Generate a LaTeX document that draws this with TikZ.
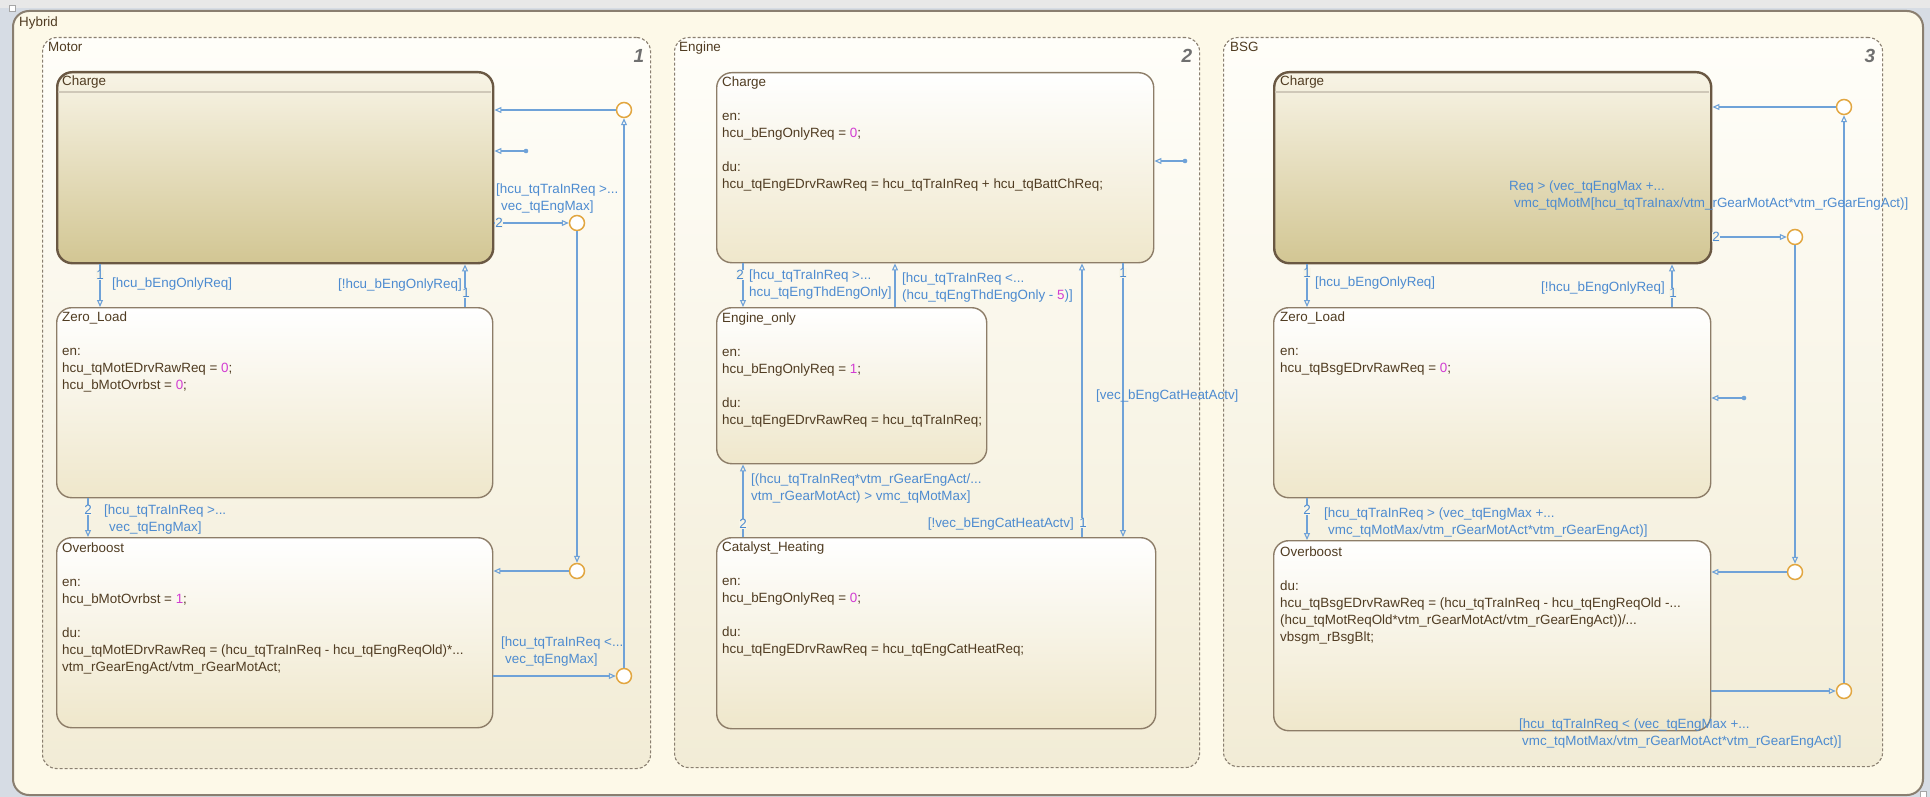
\documentclass[tikz,border=0pt]{standalone}
\usepackage{fontspec}
\setmainfont{Liberation Sans}
\usetikzlibrary{arrows.meta,calc}
\definecolor{framecol}{HTML}{D6DCE4}
\definecolor{topstrip}{HTML}{E8E8E8}
\definecolor{hyfill}{HTML}{FDF9E8}
\definecolor{hydraw}{HTML}{8A7F70}
\definecolor{ctop}{HTML}{FFFEF9}
\definecolor{cbot}{HTML}{F2ECD6}
\definecolor{stopc}{HTML}{FFFFFF}
\definecolor{sbot}{HTML}{EFE7CB}
\definecolor{atop}{HTML}{F8F4E6}
\definecolor{abot}{HTML}{D2C693}
\definecolor{sdraw}{HTML}{8D7D68}
\definecolor{adraw}{HTML}{6A5843}
\definecolor{stcol}{HTML}{503C22}
\definecolor{numcol}{HTML}{D23CD2}
\definecolor{trcol}{HTML}{6FA2D8}
\definecolor{labcol}{HTML}{4D8BD0}
\definecolor{jcol}{HTML}{E2A640}
\definecolor{chnum}{HTML}{707070}
\definecolor{hdrcol}{HTML}{CFC8B8}
\newcommand\sfnt{\fontsize{13.4}{17}\selectfont}
\newcommand\nm[1]{\textcolor{numcol}{#1}}
\begin{document}
\begin{tikzpicture}[x=1pt,y=-1pt,
  cont/.style={draw=hydraw, line width=1.1pt, dash pattern=on 3pt off 2pt, rounded corners=14pt, top color=ctop, bottom color=cbot, inner sep=0pt, anchor=north west},
  state/.style={draw=sdraw, line width=1.4pt, rounded corners=15pt, top color=stopc, bottom color=sbot, inner sep=0pt, anchor=north west},
  astate/.style={draw=adraw, line width=2.4pt, rounded corners=15pt, top color=atop, bottom color=abot, inner sep=0pt, anchor=north west},
  txt/.style={font=\sfnt, text=stcol, align=left, inner sep=0pt, anchor=north west},
  ln/.style={font=\sfnt, text=stcol, inner sep=0pt, anchor=base west},
  lab/.style={font=\sfnt, text=labcol, align=left, inner sep=0pt, anchor=north west},
  labw/.style={font=\sfnt, text=labcol, inner sep=0pt, anchor=base west},
  labe/.style={font=\sfnt, text=labcol, inner sep=0pt, anchor=base east},
  tnum/.style={font=\sfnt, text=labcol, inner sep=0.6pt, fill=ctop!50!cbot},
  cnum/.style={font=\fontsize{19}{20}\selectfont\bfseries\itshape, text=chnum, inner sep=0pt},
  junc/.style={circle, draw=jcol, line width=1.5pt, fill=white, minimum size=15pt, inner sep=0pt},
  trans/.style={draw=trcol, line width=1.1pt, -{Triangle[open, length=7pt, width=6pt]}},
  dotst/.style={fill=trcol},
]
\useasboundingbox (0,0) rectangle (1930,797);
\fill[framecol] (0,0) rectangle (1930,797);
\fill[topstrip] (0,0) rectangle (1930,8);

% Hybrid
\node[draw=hydraw, line width=2pt, rounded corners=16pt, fill=hyfill, anchor=north west, minimum width=1910pt, minimum height=784pt, inner sep=0pt] (hybrid) at (12,10) {};
\draw[gray!70, fill=white] (9,5) rectangle (15,11);
\draw[gray!70, fill=white] (1920,791) rectangle (1926,797);
\node[ln] (hybridT) at (19,27) {Hybrid};

% Containers
\node[cont, minimum width=608pt, minimum height=731pt] (motor) at (42,37) {};
\node[cont, minimum width=525pt, minimum height=730pt] (engine) at (674,37) {};
\node[cont, minimum width=659pt, minimum height=729pt] (bsg) at (1223,37) {};
\node[ln] (motorT) at (48,52) {Motor};
\node[ln] (engineT) at (679,52) {Engine};
\node[ln] (bsgT) at (1230,52) {BSG};
\node[cnum] (motorN) at (639,56) {1};
\node[cnum] (engineN) at (1187,56) {2};
\node[cnum] (bsgN) at (1870,56) {3};

% Motor states
\node[astate, minimum width=436pt, minimum height=191pt] (mcharge) at (56,71) {};
\draw[hdrcol, line width=1.2pt] (57.5,92) -- (490.5,92);
\node[ln] (mchargeT) at (62,86) {Charge};
\node[state, minimum width=436pt, minimum height=190pt] (mzero) at (56,307) {};
\node[txt] (mzeroT) at (62,309.1) {\strut Zero\_Load\\[17pt]en:\\hcu\_tqMotEDrvRawReq = \nm{0};\\hcu\_bMotOvrbst = \nm{0};};
\node[state, minimum width=436pt, minimum height=190pt] (mover) at (56,537) {};
\node[txt] (moverT) at (62,540.1) {\strut Overboost\\[17pt]en:\\hcu\_bMotOvrbst = \nm{1};\\[17pt]du:\\hcu\_tqMotEDrvRawReq = (hcu\_tqTraInReq - hcu\_tqEngReqOld)*...\\vtm\_rGearEngAct/vtm\_rGearMotAct;};

% Engine states
\node[state, minimum width=437pt, minimum height=190pt] (echarge) at (716,72) {};
\node[txt] (echargeT) at (722,74.1) {\strut Charge\\[17pt]en:\\hcu\_bEngOnlyReq = \nm{0};\\[17pt]du:\\hcu\_tqEngEDrvRawReq = hcu\_tqTraInReq + hcu\_tqBattChReq;};
\node[state, minimum width=270pt, minimum height=156pt] (eonly) at (716,307) {};
\node[txt] (eonlyT) at (722,310.1) {\strut Engine\_only\\[17pt]en:\\hcu\_bEngOnlyReq = \nm{1};\\[17pt]du:\\hcu\_tqEngEDrvRawReq = hcu\_tqTraInReq;};
\node[state, minimum width=439pt, minimum height=191pt] (ecat) at (716,537) {};
\node[txt] (ecatT) at (722,539.1) {\strut Catalyst\_Heating\\[17pt]en:\\hcu\_bEngOnlyReq = \nm{0};\\[17pt]du:\\hcu\_tqEngEDrvRawReq = hcu\_tqEngCatHeatReq;};

% BSG states
\node[astate, minimum width=437pt, minimum height=191pt] (bcharge) at (1273,71) {};
\draw[hdrcol, line width=1.2pt] (1274.5,92) -- (1708.5,92);
\node[ln] (bchargeT) at (1280,86) {Charge};
\node[state, minimum width=437pt, minimum height=190pt] (bzero) at (1273,307) {};
\node[txt] (bzeroT) at (1280,309.1) {\strut Zero\_Load\\[17pt]en:\\hcu\_tqBsgEDrvRawReq = \nm{0};};
\node[state, minimum width=437pt, minimum height=190pt] (bover) at (1273,540) {};
\node[txt] (boverT) at (1280,544.1) {\strut Overboost\\[17pt]du:\\hcu\_tqBsgEDrvRawReq = (hcu\_tqTraInReq - hcu\_tqEngReqOld -...\\(hcu\_tqMotReqOld*vtm\_rGearMotAct/vtm\_rGearEngAct))/...\\vbsgm\_rBsgBlt;};

% Junctions
\node[junc] (mj1) at (624,110) {};
\node[junc] (mj2) at (577,223) {};
\node[junc] (mj3) at (577,571) {};
\node[junc] (mj4) at (624,676) {};
\node[junc] (bj1) at (1844,107) {};
\node[junc] (bj2) at (1795,237) {};
\node[junc] (bj3) at (1795,572) {};
\node[junc] (bj4) at (1844,691) {};

% helper coordinates
\coordinate (mx1) at (100,0);
\coordinate (mx2) at (465,0);
\coordinate (mx3) at (88,0);
\coordinate (ex1) at (743,0);
\coordinate (ex2) at (895,0);
\coordinate (ex3) at (1082,0);
\coordinate (ex4) at (1123,0);
\coordinate (bx1) at (1307,0);
\coordinate (bx2) at (1672,0);
\coordinate (md) at (526,151);
\coordinate (ed) at (1185,161);
\coordinate (bd) at (1744,398);

% Motor transitions
\draw[trans] (mcharge.south -| mx1) -- (mzero.north -| mx1);
\draw[trans] (mzero.north -| mx2) -- (mcharge.south -| mx2);
\draw[trans] (mzero.south -| mx3) -- (mover.north -| mx3);
\draw[trans] (mcharge.east |- mj2) -- (mj2);
\draw[trans] (mj2) -- (mj3);
\draw[trans] (mj3) -- (mover.east |- mj3);
\draw[trans] (mover.east |- mj4) -- (mj4);
\draw[trans] (mj4) -- (mj1);
\draw[trans] (mj1) -- (mcharge.east |- mj1);
\draw[trans] (md) -- (mcharge.east |- md);
\fill[dotst] (md) circle (2.3pt);

% Engine transitions
\draw[trans] (echarge.south -| ex1) -- (eonly.north -| ex1);
\draw[trans] (eonly.north -| ex2) -- (echarge.south -| ex2);
\draw[trans] (ecat.north -| ex1) -- (eonly.south -| ex1);
\draw[trans] (ecat.north -| ex3) -- (echarge.south -| ex3);
\draw[trans] (echarge.south -| ex4) -- (ecat.north -| ex4);
\draw[trans] (ed) -- (echarge.east |- ed);
\fill[dotst] (ed) circle (2.3pt);

% BSG transitions
\draw[trans] (bcharge.south -| bx1) -- (bzero.north -| bx1);
\draw[trans] (bzero.north -| bx2) -- (bcharge.south -| bx2);
\draw[trans] (bzero.south -| bx1) -- (bover.north -| bx1);
\draw[trans] (bcharge.east |- bj2) -- (bj2);
\draw[trans] (bj2) -- (bj3);
\draw[trans] (bj3) -- (bover.east |- bj3);
\draw[trans] (bover.east |- bj4) -- (bj4);
\draw[trans] (bj4) -- (bj1);
\draw[trans] (bj1) -- (bcharge.east |- bj1);
\draw[trans] (bd) -- (bzero.east |- bd);
\fill[dotst] (bd) circle (2.3pt);

% Motor labels
\node[labw] (ml1) at (112,287) {[hcu\_bEngOnlyReq]};
\node[labe] (ml2) at (462,288) {[!hcu\_bEngOnlyReq]};
\node[lab] (ml3) at (496,181.1) {\strut[hcu\_tqTraInReq >...\\\hspace*{5pt}vec\_tqEngMax]};
\node[lab] (ml4) at (104,502.1) {\strut[hcu\_tqTraInReq >...\\\hspace*{5pt}vec\_tqEngMax]};
\node[lab] (ml5) at (501,634.1) {\strut[hcu\_tqTraInReq <...\\\hspace*{4pt}vec\_tqEngMax]};
\node[tnum] (mn1) at (100,275) {1};
\node[tnum] (mn2) at (466,293) {1};
\node[tnum] (mn3) at (499,223) {2};
\node[tnum] (mn4) at (88,510) {2};

% Engine labels
\node[lab] (el1) at (749,267.1) {\strut[hcu\_tqTraInReq >...\\hcu\_tqEngThdEngOnly]};
\node[lab] (el2) at (902,270.1) {\strut[hcu\_tqTraInReq <...\\(hcu\_tqEngThdEngOnly - \nm{5})]};
\node[lab] (el3) at (751,471.1) {\strut[(hcu\_tqTraInReq*vtm\_rGearEngAct/...\\vtm\_rGearMotAct) > vmc\_tqMotMax]};
\node[labe] (el4) at (1074,527) {[!vec\_bEngCatHeatActv]};
\node[labw] (el5) at (1096,399) {[vec\_bEngCatHeatActv]};
\node[tnum] (en1) at (740,275) {2};
\node[tnum] (en2) at (743,524) {2};
\node[tnum] (en3) at (1083,523) {1};
\node[tnum] (en4) at (1123,273) {1};

% BSG labels
\node[labw] (bl1) at (1315,286) {[hcu\_bEngOnlyReq]};
\node[labe] (bl2) at (1665,291) {[!hcu\_bEngOnlyReq]};
\node[lab] (bl3) at (1509,178.1) {\strut Req > (vec\_tqEngMax +...\\\hspace*{5pt}vmc\_tqMotM[hcu\_tqTraInax/vtm\_rGearMotAct*vtm\_rGearEngAct)]};
\node[lab] (bl4) at (1324,505.1) {\strut[hcu\_tqTraInReq > (vec\_tqEngMax +...\\\hspace*{4pt}vmc\_tqMotMax/vtm\_rGearMotAct*vtm\_rGearEngAct)]};
\node[lab] (bl5) at (1519,716.1) {\strut[hcu\_tqTraInReq < (vec\_tqEngMax +...\\\hspace*{3pt}vmc\_tqMotMax/vtm\_rGearMotAct*vtm\_rGearEngAct)]};
\node[tnum] (bn1) at (1307,273) {1};
\node[tnum] (bn2) at (1673,293) {1};
\node[tnum] (bn3) at (1716,237) {2};
\node[tnum] (bn4) at (1307,510) {2};
\end{tikzpicture}
\end{document}
